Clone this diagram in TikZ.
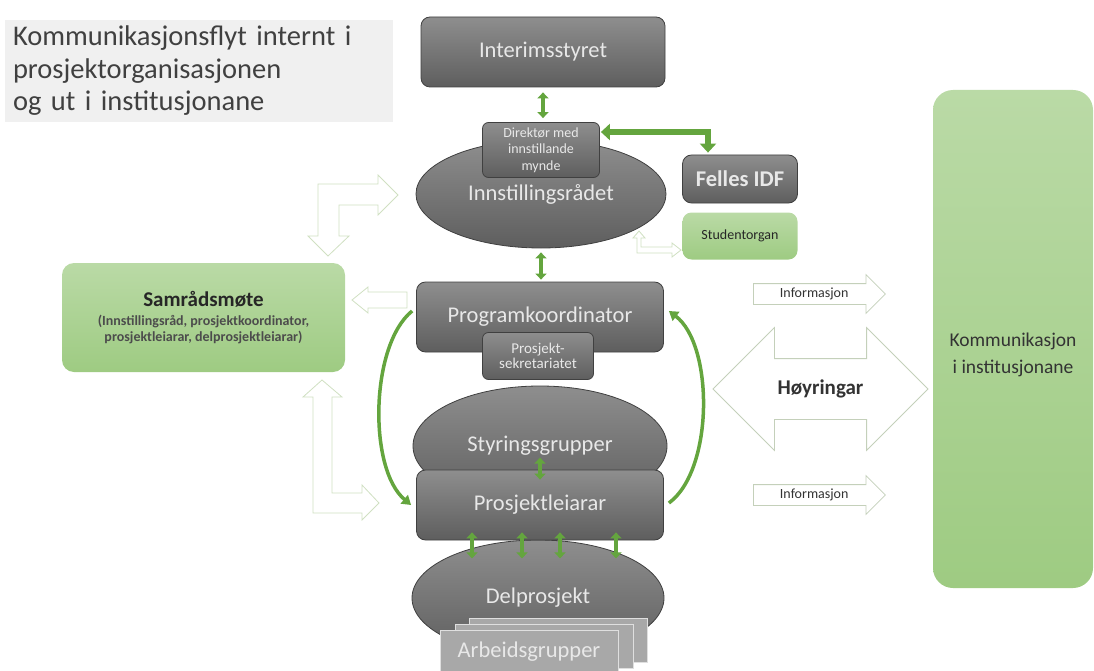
\documentclass[tikz,border=0pt]{standalone}
\usepackage{fontspec}
\setmainfont{Carlito}
\usetikzlibrary{shapes.geometric,shapes.arrows,arrows.meta}

\definecolor{arrowgreen}{RGB}{100,165,62}
\definecolor{greentop}{RGB}{186,218,166}
\definecolor{greenbot}{RGB}{158,203,130}
\definecolor{outlinegreen}{RGB}{208,224,194}
\definecolor{outlinegray}{RGB}{196,208,186}
\definecolor{graytop}{RGB}{142,142,142}
\definecolor{graybot}{RGB}{94,94,94}
\definecolor{grayline}{RGB}{64,64,64}
\definecolor{lighttext}{RGB}{232,232,232}
\definecolor{workgray}{RGB}{168,168,168}

\tikzset{
  bigfont/.style={font=\fontsize{22.5}{26}\selectfont},
  graybox/.style={draw=grayline, line width=0.8pt, rounded corners=9pt,
    top color=graytop, bottom color=graybot, text=lighttext, bigfont},
  grayell/.style={ellipse, draw=grayline, line width=0.8pt,
    top color=graytop, bottom color=graybot, text=lighttext, bigfont},
  smallbox/.style={graybox, rounded corners=6pt, align=center, inner sep=2pt},
  greenbox/.style={rounded corners=12pt, top color=greentop, bottom color=greenbot,
    text=black!85},
  workbox/.style={draw=white!75!gray, line width=0.6pt, fill=workgray,
    text=lighttext, bigfont, minimum width=178pt, minimum height=44pt},
  dblgreen/.style={draw=arrowgreen, line width=4.5pt,
    {Triangle[width=11pt,length=6pt]}-{Triangle[width=11pt,length=6pt]}},
  curvegreen/.style={draw=arrowgreen, line width=3.5pt, -{Triangle[width=11pt,length=9pt]}},
  outlinearrow/.style={draw=outlinegreen, fill=white, line width=0.8pt},
  infoarrow/.style={single arrow, draw=outlinegray, fill=white, line width=0.8pt,
    single arrow head extend=9pt, minimum height=132pt, text height=10pt,
    text depth=3pt, inner ysep=3.5pt, text=black!80, font=\fontsize{14}{16}\selectfont},
}

\begin{document}
\begin{tikzpicture}[x=1pt,y=-1pt]
\useasboundingbox (0,0) rectangle (1094,671);

% title
\node[fill=black!6, text=black!75, text width=372pt, inner xsep=8pt, minimum height=102pt,
  align=left, font=\fontsize{28.5}{32.5}\selectfont] (title) at (199,71)
  {Kommunikasjonsflyt internt i\\prosjektorganisasjonen\\og ut i institusjonane};

% outlined arrows on the left
\draw[outlinearrow] (318,184) -- (378,184) -- (378,175) -- (398,195) -- (378,215) -- (378,205)
  -- (339,205) -- (339,236) -- (349,236) -- (328,256) -- (308,236) -- (318,236) -- cycle;
\draw[outlinearrow] (322,380) -- (342,397) -- (332,397) -- (332,493) -- (362,493) -- (362,485)
  -- (379,503) -- (362,520) -- (362,513) -- (313,513) -- (313,397) -- (303,397) -- cycle;
\draw[outlinearrow] (407,292) -- (368,292) -- (368,287) -- (352,300) -- (368,313) -- (368,308)
  -- (407,308) -- cycle;
\draw[outlinearrow] (641,247) -- (672,247) -- (672,243) -- (681,250) -- (672,257) -- (672,253)
  -- (637,253) -- (637,238) -- (633,238) -- (639,231) -- (645,238) -- (641,238) -- cycle;

% central column
\node[graybox, minimum width=244pt, minimum height=70pt] (interim) at (543,52) {Interimsstyret};
\node[grayell, minimum width=250pt, minimum height=108pt] (innst) at (541,194) {Innstillingsrådet};
\node[smallbox, minimum width=117pt, minimum height=55pt,
  font=\fontsize{14}{16.5}\selectfont] (direk) at (541,150) {Direktør med\\innstillande\\mynde};
\node[graybox, minimum width=115pt, minimum height=48pt,
  font=\fontsize{22.5}{26}\selectfont\bfseries] (felles) at (740,179) {Felles IDF};
\node[greenbox, rounded corners=9pt, minimum width=115pt, minimum height=47pt,
  font=\fontsize{14}{16}\selectfont] (stud) at (740,236) {Studentorgan};

\node[graybox, minimum width=247pt, minimum height=70pt] (prog) at (540,317) {Programkoordinator};
\node[smallbox, minimum width=111pt, minimum height=47pt,
  font=\fontsize{15}{15.5}\selectfont] (sekr) at (538,356) {Prosjekt-\\sekretariatet};

\node[grayell, minimum width=254pt, minimum height=120pt] (styr) at (540,446) {Styringsgrupper};
\node[grayell, minimum width=252pt, minimum height=116pt] (delp) at (538,598) {Delprosjekt};
\node[graybox, minimum width=247pt, minimum height=70pt] (lead) at (540,505) {Prosjektleiarar};

\node[workbox] (arbc) at (558,640) {};
\node[workbox] (arbb) at (544,646) {};
\node[workbox] (arbeid) at (529,652) {Arbeidsgrupper};

% green boxes
\node[greenbox, minimum width=283pt, minimum height=109pt, align=center, text=black!70,
  font=\fontsize{14}{16}\selectfont\bfseries] (samrad) at (203.5,317.5)
  {{\fontsize{21}{24}\selectfont\color{black!85}Samrådsmøte}\\[3pt]
   (Innstillingsråd, prosjektkoordinator,\\prosjektleiarar, delprosjektleiarar)};
\node[greenbox, rounded corners=20pt, minimum width=160pt, minimum height=498pt,
  label={[align=center, text=black!80, font=\fontsize{19.5}{27}\selectfont, yshift=-16pt]center:
  Kommunikasjon\\i institusjonane}] (komm) at (1013,339) {};

% arrows to the institutions
\node[infoarrow, anchor=tail] (info1) at (753,294) {Informasjon};
\node[infoarrow, anchor=tail] (info2) at (753,495) {Informasjon};
\node[double arrow, draw=outlinegray, fill=white, line width=0.8pt, double arrow head extend=31pt,
  minimum height=215pt, text height=15pt, text depth=5pt, inner ysep=20pt, text=black!80,
  font=\fontsize{21}{24}\selectfont\bfseries] (hoyr) at (820.5,389) {Høyringar};

% green connectors
\draw[dblgreen, shorten <=5pt, shorten >=4pt] (interim.south) -- (interim.south |- direk.north);
\draw[dblgreen, shorten <=4pt, shorten >=2pt] (innst.south) -- (innst.south |- prog.north);
\draw[dblgreen] ([yshift=12pt]lead.north) -- ([yshift=-10pt]lead.north);
\foreach \dx in {-68,-18,20,76}
  \draw[dblgreen] ([xshift=\dx pt,yshift=8pt]lead.south) -- ([xshift=\dx pt,yshift=-18pt]lead.south);
\draw[draw=arrowgreen, line width=6pt, shorten >=2pt,
  {Triangle[width=16pt,length=9pt]}-{Triangle[width=16pt,length=9pt]}]
  ([xshift=1pt,yshift=18pt]direk.east) -| ([xshift=-32pt]felles.north);
\draw[curvegreen] ([xshift=-4pt,yshift=6pt]prog.west) .. controls +(-42,34) and +(-43,-36) .. ([xshift=-5pt]lead.west);
\draw[curvegreen] ([xshift=5pt,yshift=2pt]lead.east) .. controls +(45,-33) and +(45,34) .. ([xshift=5pt,yshift=6pt]prog.east);
\end{tikzpicture}
\end{document}
